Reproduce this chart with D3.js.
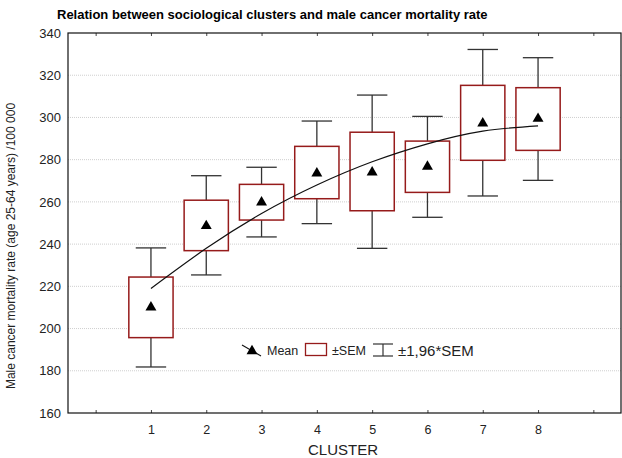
<!DOCTYPE html>
<html>
<head>
<meta charset="utf-8">
<script src="https://cdn.jsdelivr.net/npm/d3@7"></script>
<style>
  body { margin: 0; background: #fff; }
  svg { display: block; font-family: Arial, "Liberation Sans", sans-serif; }
</style>
</head>
<body>
<svg id="chart" width="622" height="458"></svg>
<script>
// data
const clusters = [1, 2, 3, 4, 5, 6, 7, 8];
const means    = [210, 248.6, 259.8, 273.5, 274, 276.7, 297.2, 299.4];
const semLow   = [195.7, 236.9, 251.4, 261.5, 255.8, 264.5, 279.7, 284.4];
const semHigh  = [224.4, 260.8, 268.3, 286.3, 293, 288.8, 315.2, 314.1];
const ciLow    = [181.8, 225.4, 243.4, 249.7, 238, 252.7, 262.8, 270.2];
const ciHigh   = [238.2, 272.4, 276.4, 298.3, 310.6, 300.5, 332.2, 328.3];
// fitted curve, as drawn
const trend    = [219, 238, 254.5, 268, 279, 287.5, 293.5, 296];
const yTicks   = [160, 180, 200, 220, 240, 260, 280, 300, 320, 340];
const xTicks   = [0, 1, 2, 3, 4, 5, 6, 7, 8, 9];

const margin = { top: 33, right: 1, bottom: 45, left: 68 };
const W = 622, H = 458;
const svg = d3.select("#chart");

const x = d3.scaleLinear().domain([-0.5, 9.5]).range([margin.left, W - margin.right]);
const y = d3.scaleLinear().domain([160, 340]).range([H - margin.bottom, margin.top]);

const boxColor = "#961b1b";
const whiskColor = "#333";
const step = x(1) - x(0);
const boxW = step * 0.8;
const capW = step * 0.55;

// title
svg.append("text")
  .attr("x", 57).attr("y", 19)
  .attr("font-size", 13).attr("font-weight", "bold")
  .text("Relation between sociological clusters and male cancer mortality rate");

// grid
svg.append("g")
  .selectAll("line")
  .data(yTicks.slice(1, -1))
  .join("line")
  .attr("x1", x.range()[0]).attr("x2", x.range()[1])
  .attr("y1", d => y(d)).attr("y2", d => y(d))
  .attr("stroke", "#cfcfcf").attr("stroke-width", 1)
  .attr("stroke-dasharray", "1,1");

// axes
const yAxis = svg.append("g")
  .attr("transform", `translate(${margin.left},0)`)
  .call(d3.axisLeft(y).tickValues(yTicks).tickSize(0).tickPadding(7));
yAxis.select(".domain").remove();
yAxis.selectAll("text").attr("font-size", 13).attr("fill", "#222");

const xAxis = svg.append("g")
  .attr("transform", `translate(0,${y(160)})`)
  .call(d3.axisBottom(x).tickValues(xTicks).tickSize(-3).tickPadding(12)
    .tickFormat(d => (d >= 1 && d <= 8) ? d : ""));
xAxis.select(".domain").remove();
xAxis.selectAll("text").attr("font-size", 12.5).attr("fill", "#222");
xAxis.selectAll("line").attr("stroke", "#444");

const topAxis = svg.append("g")
  .attr("transform", `translate(0,${y(340)})`)
  .call(d3.axisTop(x).tickValues(xTicks).tickSize(-3).tickFormat(""));
topAxis.select(".domain").remove();
topAxis.selectAll("line").attr("stroke", "#444");

// frame
svg.append("rect")
  .attr("x", x.range()[0]).attr("y", y(340))
  .attr("width", x.range()[1] - x.range()[0])
  .attr("height", y(160) - y(340))
  .attr("fill", "none").attr("stroke", "#111").attr("stroke-width", 1.2);

// axis titles
svg.append("text")
  .attr("transform", `translate(14.5,246) rotate(-90)`)
  .attr("text-anchor", "middle").attr("font-size", 12).attr("fill", "#222")
  .text("Male cancer mortality rate (age 25-64 years) /100 000");

svg.append("text")
  .attr("x", 343).attr("y", 455)
  .attr("text-anchor", "middle").attr("font-size", 15).attr("fill", "#222")
  .text("CLUSTER");

// whiskers
const g = svg.append("g");
clusters.forEach((c, i) => {
  const cx = x(c);
  g.append("line").attr("x1", cx).attr("x2", cx)
    .attr("y1", y(ciHigh[i])).attr("y2", y(semHigh[i]))
    .attr("stroke", whiskColor).attr("stroke-width", 1.3);
  g.append("line").attr("x1", cx).attr("x2", cx)
    .attr("y1", y(semLow[i])).attr("y2", y(ciLow[i]))
    .attr("stroke", whiskColor).attr("stroke-width", 1.3);
  [ciHigh[i], ciLow[i]].forEach(v => {
    g.append("line").attr("x1", cx - capW / 2).attr("x2", cx + capW / 2)
      .attr("y1", y(v)).attr("y2", y(v))
      .attr("stroke", whiskColor).attr("stroke-width", 1.3);
  });
  g.append("rect")
    .attr("x", cx - boxW / 2).attr("y", y(semHigh[i]))
    .attr("width", boxW).attr("height", y(semLow[i]) - y(semHigh[i]))
    .attr("fill", "#fff").attr("stroke", boxColor).attr("stroke-width", 1.5);
});

// trend curve
svg.append("path")
  .datum(clusters.map((c, i) => [c, trend[i]]))
  .attr("fill", "none").attr("stroke", "#111").attr("stroke-width", 1.2)
  .attr("d", d3.line().x(d => x(d[0])).y(d => y(d[1])).curve(d3.curveNatural));

// means
const tri = d3.symbol().type(d3.symbolTriangle).size(52);
svg.append("g")
  .selectAll("path")
  .data(clusters)
  .join("path")
  .attr("transform", (c, i) => `translate(${x(c)},${y(means[i])})`)
  .attr("d", tri)
  .attr("fill", "#000");

// legend
const lg = svg.append("g").attr("font-size", 12.5).attr("fill", "#222");
lg.append("line").attr("x1", 242).attr("y1", 345).attr("x2", 261).attr("y2", 356)
  .attr("stroke", "#111").attr("stroke-width", 1.1);
lg.append("path").attr("transform", "translate(252,351)").attr("d", tri).attr("fill", "#000");
lg.append("text").attr("x", 267).attr("y", 355).text("Mean");
lg.append("rect").attr("x", 305.5).attr("y", 343.5).attr("width", 21).attr("height", 12)
  .attr("fill", "#fff").attr("stroke", boxColor).attr("stroke-width", 1.3);
lg.append("text").attr("x", 332).attr("y", 355).text("±SEM");
lg.append("line").attr("x1", 373).attr("x2", 393).attr("y1", 344).attr("y2", 344).attr("stroke", whiskColor).attr("stroke-width", 1.2);
lg.append("line").attr("x1", 373).attr("x2", 393).attr("y1", 356).attr("y2", 356).attr("stroke", whiskColor).attr("stroke-width", 1.2);
lg.append("line").attr("x1", 383).attr("x2", 383).attr("y1", 344).attr("y2", 356).attr("stroke", whiskColor).attr("stroke-width", 1.2);
lg.append("text").attr("x", 398).attr("y", 356).attr("font-size", 15).text("±1,96*SEM");
</script>
</body>
</html>
